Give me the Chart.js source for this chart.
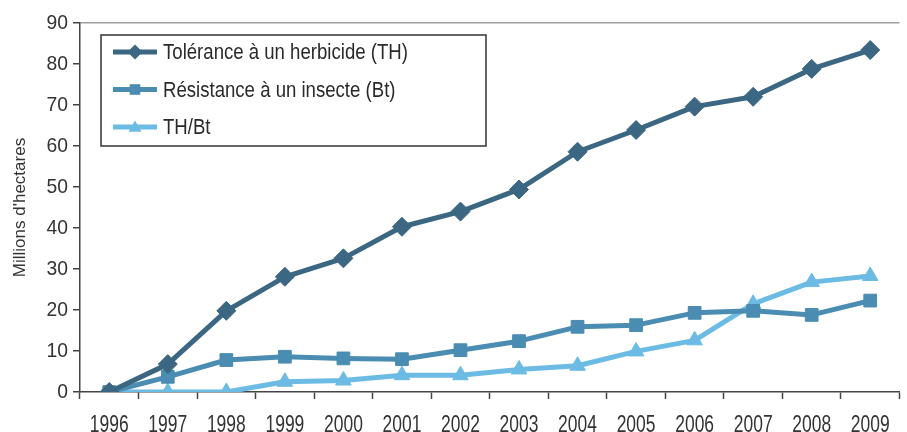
<!DOCTYPE html>
<html>
<head>
<meta charset="utf-8">
<script src="https://cdn.jsdelivr.net/npm/chart.js@4/dist/chart.umd.min.js"></script>
<style>
  html, body { margin: 0; padding: 0; background: #ffffff; overflow: hidden; }
  #wrap { position: relative; width: 910px; height: 432px; }
</style>
</head>
<body>
<div id="wrap"><canvas id="c"></canvas></div>
<script>
const years = ['1996','1997','1998','1999','2000','2001','2002','2003','2004','2005','2006','2007','2008','2009'];
const thValues   = [0, 6.8, 19.8, 28.1, 32.6, 40.3, 44.0, 49.4, 58.6, 63.9, 69.6, 72.0, 78.8, 83.4];
const btValues   = [0, 3.7, 7.8, 8.6, 8.2, 8.0, 10.2, 12.4, 15.9, 16.3, 19.3, 19.8, 18.8, 22.3];
const thbtValues = [0, 0, 0, 2.5, 2.8, 4.1, 4.1, 5.5, 6.4, 9.9, 12.6, 21.5, 26.8, 28.3];
const seriesNames = ['Tolérance à un herbicide (TH)', 'Résistance à un insecte (Bt)', 'TH/Bt'];
const yTitle = "Millions d'hectares";

const FONT = '"Liberation Sans", Arial, Helvetica, sans-serif';
const colTH = '#3b6782';
const colBt = '#4b8cb2';
const colTB = '#6cbbe4';

// horizontal condensing of text per font size (reference uses a condensed face)
const condense = { 21: 0.92, 22: 0.845, 23: 0.76 };

function drawMarker(ctx, style, x, y, r, color) {
  ctx.save();
  ctx.fillStyle = color;
  ctx.beginPath();
  if (style === 'rectRot') {
    ctx.moveTo(x, y - r); ctx.lineTo(x + r, y); ctx.lineTo(x, y + r); ctx.lineTo(x - r, y);
  } else if (style === 'rect') {
    const s = Math.SQRT1_2 * r;
    ctx.rect(x - s, y - s, 2 * s, 2 * s);
  } else {
    const a = 2 * Math.PI / 3;
    ctx.moveTo(x, y - r);
    ctx.lineTo(x + Math.sin(a) * r, y - Math.cos(a) * r);
    ctx.lineTo(x + Math.sin(2 * a) * r, y - Math.cos(2 * a) * r);
  }
  ctx.closePath();
  ctx.fill();
  ctx.restore();
}

const condensedText = {
  id: 'condensedText',
  beforeDraw(chart) {
    const ctx = chart.ctx;
    if (ctx.__patched) return;
    const orig = ctx.fillText;
    ctx.fillText = function (text, x, y, maxWidth) {
      const m = /(\d+(?:\.\d+)?)px/.exec(this.font);
      const f = m ? (condense[Math.round(parseFloat(m[1]))] || 1) : 1;
      if (f === 1) return orig.call(this, text, x, y);
      this.save();
      this.translate(x, y);
      this.scale(f, 1);
      orig.call(this, text, 0, 0);
      this.restore();
    };
    ctx.__patched = true;
  }
};

const boxLegend = {
  id: 'boxLegend',
  afterDraw(chart) {
    const ctx = chart.ctx;
    const ca = chart.chartArea;
    const bx = ca.left + 21, by = ca.top + 12, bw = 385, bh = 111;
    ctx.save();
    ctx.fillStyle = '#ffffff';
    ctx.fillRect(bx, by, bw, bh);
    ctx.strokeStyle = '#333333';
    ctx.lineWidth = 1.5;
    ctx.strokeRect(bx, by, bw, bh);
    chart.data.datasets.forEach((ds, i) => {
      const cy = by + 17 + i * 37.5;
      const x0 = bx + 12, x1 = bx + 56;
      ctx.strokeStyle = ds.borderColor;
      ctx.lineWidth = 5;
      ctx.beginPath(); ctx.moveTo(x0, cy); ctx.lineTo(x1, cy); ctx.stroke();
      drawMarker(ctx, ds.pointStyle, (x0 + x1) / 2, ds.pointStyle === 'triangle' ? cy + 1 : cy, 7.5, ds.borderColor);
      ctx.fillStyle = '#2a2a2a';
      ctx.font = '22px ' + FONT;
      ctx.textBaseline = 'middle';
      ctx.textAlign = 'left';
      ctx.fillText(ds.label, bx + 62, cy + 1);
    });
    ctx.restore();
  }
};

new Chart(document.getElementById('c'), {
  type: 'line',
  data: {
    labels: years,
    datasets: [
      { label: seriesNames[0], data: thValues, borderColor: colTH, backgroundColor: colTH,
        pointStyle: 'rectRot', pointRadius: 9.5, pointBorderWidth: 1 },
      { label: seriesNames[1], data: btValues, borderColor: colBt, backgroundColor: colBt,
        pointStyle: 'rect', pointRadius: 9, pointBorderWidth: 1 },
      { label: seriesNames[2], data: thbtValues, borderColor: colTB, backgroundColor: colTB,
        pointStyle: 'triangle', pointRadius: 9, pointBorderWidth: 1 }
    ]
  },
  options: {
    responsive: true,
    maintainAspectRatio: false,
    animation: false,
    events: [],
    elements: { line: { borderWidth: 5, tension: 0, borderJoinStyle: 'round' } },
    layout: { padding: { top: 23, right: 0, bottom: 0, left: 0 } },
    plugins: { legend: { display: false }, tooltip: { enabled: false } },
    scales: {
      x: {
        type: 'category',
        offset: true,
        grid: { offset: true, drawOnChartArea: false, tickLength: 7, tickColor: '#444', tickWidth: 1.5 },
        border: { color: '#444', width: 1.5 },
        ticks: { color: '#333', font: { family: FONT, size: 23 }, padding: 13, maxRotation: 0, autoSkip: false },
        afterFit(scale) { scale.height = 40; }
      },
      y: {
        min: 0, max: 90,
        ticks: { stepSize: 10, color: '#333', font: { family: FONT, size: 21 }, padding: 5 },
        grid: {
          tickLength: 7, tickColor: '#444', tickWidth: 1.5,
          color: (c) => (c.tick && c.tick.value === 90) ? '#a0a0a0' : 'rgba(0,0,0,0)',
          lineWidth: 1.5
        },
        border: { color: '#444', width: 1.5 },
        title: { display: true, text: yTitle, color: '#333', font: { family: FONT, size: 17 }, padding: { top: 10, bottom: 0 } },
        afterFit(scale) { scale.width = 80; }
      }
    }
  },
  plugins: [condensedText, boxLegend]
});
</script>
</body>
</html>
